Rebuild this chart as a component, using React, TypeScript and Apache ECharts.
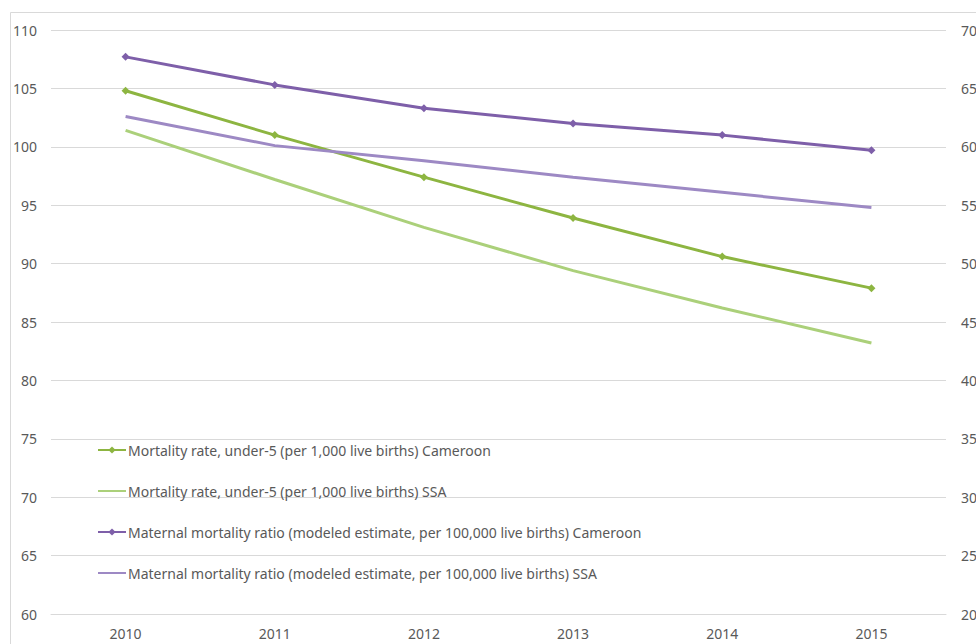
import React, { useEffect, useRef } from "react";
import * as echarts from "echarts";

const years = ["2010", "2011", "2012", "2013", "2014", "2015"];

// Under-5 mortality (per 1,000 live births) – left axis
const u5Cameroon = [104.8, 101.0, 97.4, 93.9, 90.6, 87.9];
const u5SSA = [101.4, 97.2, 93.1, 89.4, 86.2, 83.2];

// Maternal mortality ratio (per 100,000 live births) – right axis
const mmrCameroon = [677, 653, 633, 620, 610, 597];
const mmrSSA = [626, 601, 588, 574, 561, 548];

const names = [
  "Mortality rate, under-5 (per 1,000 live births) Cameroon",
  "Mortality rate, under-5 (per 1,000 live births) SSA",
  "Maternal mortality ratio (modeled estimate, per 100,000 live births) Cameroon",
  "Maternal mortality ratio (modeled estimate, per 100,000 live births) SSA",
];

const GREEN = "#8db541";
const GREEN_LIGHT = "#abd07a";
const PURPLE = "#7e5fa9";
const PURPLE_LIGHT = "#9d89c4";

const FONT = "'Noto Sans', sans-serif";
const TEXT = "#595959";
const GRID = "#d9d9d9";

export default function App() {
  const ref = useRef<HTMLDivElement>(null);

  useEffect(() => {
    if (!ref.current) return;
    const chart = echarts.init(ref.current, undefined, { renderer: "svg" });

    const lineSeries = (
      name: string,
      data: number[],
      color: string,
      yAxisIndex: number,
      marker: boolean
    ) => ({
      name,
      type: "line",
      data,
      yAxisIndex,
      symbol: marker ? "diamond" : "none",
      symbolSize: 8,
      showSymbol: marker,
      lineStyle: { color, width: 3 },
      itemStyle: marker ? { color } : { color, opacity: 0 },
      z: 3,
    });

    chart.setOption({
      animation: false,
      backgroundColor: "#ffffff",
      textStyle: { fontFamily: FONT },
      grid: {
        left: 51,
        right: 30,
        top: 30,
        bottom: 30,
        containLabel: false,
        outerBoundsMode: "none",
      },
      graphic: [
        {
          type: "line",
          shape: { x1: 10.5, y1: 12.5, x2: 976, y2: 12.5 },
          style: { stroke: GRID, lineWidth: 1 },
        },
        {
          type: "line",
          shape: { x1: 10.5, y1: 12.5, x2: 10.5, y2: 644 },
          style: { stroke: GRID, lineWidth: 1 },
        },
      ],
      legend: {
        orient: "vertical",
        left: 92,
        top: 438,
        itemWidth: 28,
        itemHeight: 9,
        itemGap: 27,
        textStyle: {
          color: TEXT,
          fontSize: 14,
          fontFamily: FONT,
          padding: [0, 0, 0, -3],
        },
        data: names,
      },
      xAxis: {
        type: "category",
        data: years,
        boundaryGap: true,
        axisLine: { show: true, lineStyle: { color: GRID } },
        axisTick: { show: false },
        axisLabel: { color: TEXT, fontSize: 14, margin: 12, fontFamily: FONT },
      },
      yAxis: [
        {
          type: "value",
          min: 60,
          max: 110,
          interval: 5,
          axisLine: { show: false },
          axisTick: { show: false },
          axisLabel: { color: TEXT, fontSize: 14, margin: 14, fontFamily: FONT },
          splitLine: { lineStyle: { color: GRID, width: 1 } },
        },
        {
          type: "value",
          min: 200,
          max: 700,
          interval: 50,
          position: "right",
          axisLine: { show: false },
          axisTick: { show: false },
          axisLabel: { color: TEXT, fontSize: 14, margin: 15, fontFamily: FONT },
          splitLine: { show: false },
        },
      ],
      series: [
        lineSeries(names[0], u5Cameroon, GREEN, 0, true),
        lineSeries(names[1], u5SSA, GREEN_LIGHT, 0, false),
        lineSeries(names[2], mmrCameroon, PURPLE, 1, true),
        lineSeries(names[3], mmrSSA, PURPLE_LIGHT, 1, false),
      ],
    });

    return () => chart.dispose();
  }, []);

  return (
    <div
      style={{
        position: "fixed",
        left: 0,
        top: 0,
        width: 976,
        height: 644,
        overflow: "hidden",
        background: "#fff",
      }}
    >
      <div ref={ref} style={{ width: 976, height: 644 }} />
    </div>
  );
}
